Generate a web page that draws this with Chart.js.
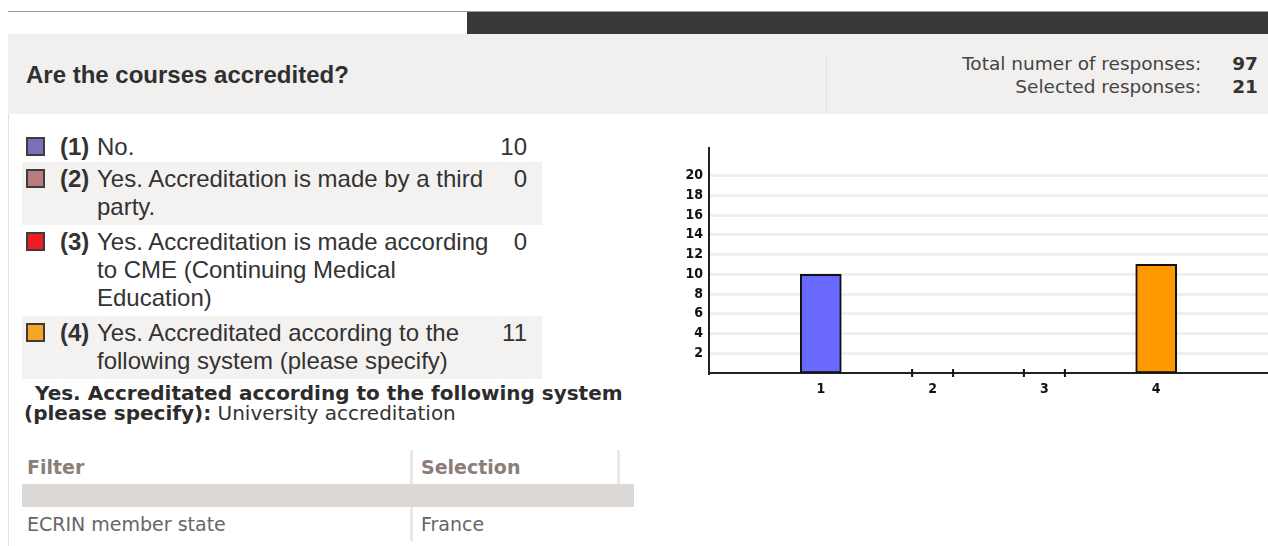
<!DOCTYPE html>
<html>
<head>
<meta charset="utf-8">
<script src="https://cdn.jsdelivr.net/npm/chart.js@4/dist/chart.umd.min.js"></script>
<style>
  html, body { margin: 0; padding: 0; background: #fff; }
  body { width: 1268px; height: 546px; position: relative; overflow: hidden; font-family: "Liberation Sans", Arial, sans-serif; }
  .topline { position: absolute; left: 8px; top: 11px; width: 1260px; height: 1px; background: #9a9a9a; }
  .darkbar { position: absolute; left: 467px; top: 12px; width: 801px; height: 22px; background: #38383b; }
  .head { position: absolute; left: 8px; top: 34px; width: 1260px; height: 80px; background: #f1f0ef; }
  .head h1 { position: absolute; left: 18px; top: 27px; margin: 0; font-size: 24px; line-height: 28px; font-weight: bold; color: #2f2f31; }
  .head .sep { position: absolute; left: 818px; top: 20px; width: 1px; height: 60px; background: #e4e3e2; }
  .totals { position: absolute; right: 10px; top: 18px; border-collapse: collapse; font-family: "DejaVu Sans", Verdana, sans-serif; font-size: 18.5px; color: #444; line-height: 23px; }
  .totals td { padding: 0; text-align: right; }
  .totals td.n { font-weight: bold; color: #333; padding-left: 31px; }
  .leftrule { position: absolute; left: 8px; top: 114px; width: 1px; height: 432px; background: #e2e2e2; }
  #legend { position: absolute; left: 22px; top: 132px; border-collapse: collapse; font-size: 24px; color: #333; line-height: 28px; }
  #legend td { padding: 3px 0 4px 0; vertical-align: top; }
  #legend tr:first-child td { padding: 1px 0 1px 0; }
  #legend tr:nth-child(even) td { background: #f3f2f1; }
  #legend tr:nth-child(even) td + td { box-shadow: inset 1px 0 0 #f7f6f5; }
  #legend .box { width: 35px; }
  #legend .box span { display: block; width: 15px; height: 15px; margin: 4px 0 0 4px; border: 2px solid #3f3a3c; }
  #legend .num { width: 37px; padding-left: 3px !important; font-weight: bold; }
  #legend .txt { width: 401px; }
  #legend .val { width: 29px; text-align: right; padding-right: 5px !important; }
  #legend .end { width: 10px; }
  .other { position: absolute; left: 24px; top: 383px; font-family: "DejaVu Sans", Verdana, sans-serif; font-size: 20px; color: #333; line-height: 20px; width: 600px; }
  .other b { color: #2c2c2c; margin-left: 11px; }
  .other b.cont { margin-left: 0; }
  #filters { position: absolute; left: 22px; top: 450px; border-collapse: collapse; font-family: "DejaVu Sans", Verdana, sans-serif; font-size: 19px; color: #666; }
  #filters th { text-align: left; color: #8b7d78; height: 34px; padding: 0 0 0 5px; border-right: 3px solid #e8e8e8; }
  #filters tr.gap td { background: #dcd8d5; height: 23px; padding: 0; }
  #filters td { height: 34px; padding: 0 0 0 5px; }
  #filters td.c1 { border-right: 3px solid #e8e8e8; }
  #filters .c2 { padding-left: 8px; }
  #chartBox { position: absolute; left: 650px; top: 130px; width: 618px; height: 280px; }
</style>
</head>
<body>
<div class="topline"></div>
<div class="darkbar"></div>
<div class="head">
  <h1>Are the courses accredited?</h1>
  <div class="sep"></div>
  <table class="totals">
    <tr><td>Total numer of responses:</td><td class="n" id="totalN"></td></tr>
    <tr><td>Selected responses:</td><td class="n" id="selectedN"></td></tr>
  </table>
</div>
<div class="leftrule"></div>

<table id="legend"></table>

<div class="other"><b>Yes. Accreditated according to the following system</b> <b class="cont">(please specify):</b> University accreditation</div>

<table id="filters">
  <tr><th style="width:383px">Filter</th><th class="c2" style="width:196px">Selection</th><th style="width:14px;border-right:none;padding:0"></th></tr>
  <tr class="gap"><td colspan="3"></td></tr>
  <tr><td class="c1">ECRIN member state</td><td class="c2">France</td><td></td></tr>
</table>

<div id="chartBox"><canvas id="accreditation"></canvas></div>

<script>
// answer options and counts
var categories = ['1', '2', '3', '4'];
var answers = [
  'No.',
  'Yes. Accreditation is made by a third party.',
  'Yes. Accreditation is made according to CME (Continuing Medical Education)',
  'Yes. Accreditated according to the following system (please specify)'
];
var responses = [10, 0, 0, 11];
var yTickValues = [2, 4, 6, 8, 10, 12, 14, 16, 18, 20];
var totalResponses = 97;

var barColors = ['#6969ff', '#c98080', '#ff1a1a', '#ff9900'];
var boxColors = ['#7a70b8', '#b97b7b', '#ed1c25', '#f6a623'];

document.getElementById('totalN').textContent = totalResponses;
document.getElementById('selectedN').textContent = responses.reduce(function (a, b) { return a + b; }, 0);

// legend rows next to the chart
var legend = document.getElementById('legend');
answers.forEach(function (text, i) {
  var tr = document.createElement('tr');
  tr.innerHTML = '<td class="box"><span style="background:' + boxColors[i] + '"></span></td>' +
    '<td class="num">(' + categories[i] + ')</td>' +
    '<td class="txt">' + text + '</td>' +
    '<td class="val">' + responses[i] + '</td>' +
    '<td class="end"></td>';
  legend.appendChild(tr);
});

// little marks on the axis where a bar has no height
var zeroBarMarks = {
  id: 'zeroBarMarks',
  afterDatasetsDraw: function (chart) {
    var meta = chart.getDatasetMeta(0);
    var c = chart.ctx;
    c.save();
    c.strokeStyle = '#111';
    c.lineWidth = 2;
    meta.data.forEach(function (bar, i) {
      if (responses[i] !== 0) return;
      var half = bar.width / 2;
      [bar.x - half, bar.x + half].forEach(function (x) {
        c.beginPath();
        c.moveTo(x, bar.base - 4);
        c.lineTo(x, bar.base + 4);
        c.stroke();
      });
    });
    c.restore();
  }
};

var tickFont = { family: '"Liberation Sans Narrow", "DejaVu Sans Condensed", sans-serif', size: 14, weight: 'bold' };

var ctx = document.getElementById('accreditation');
new Chart(ctx, {
  type: 'bar',
  data: {
    datasets: [{
      data: categories.map(function (c, i) { return { x: Number(c), y: responses[i] }; }),
      backgroundColor: barColors,
      borderColor: '#111',
      borderWidth: 2,
      borderSkipped: false,
      barThickness: 41
    }]
  },
  options: {
    responsive: true,
    maintainAspectRatio: false,
    animation: false,
    layout: { padding: { top: 18, right: 0, left: 0, bottom: 0 } },
    plugins: { legend: { display: false }, tooltip: { enabled: false } },
    scales: {
      x: {
        type: 'linear',
        offset: false,
        min: 0,
        max: 5,
        afterBuildTicks: function (scale) {
          scale.ticks = categories.map(function (c) { return { value: Number(c) }; });
        },
        afterFit: function (scale) { scale.height = 37; },
        ticks: {
          padding: 8,
          color: '#111',
          font: tickFont,
          callback: function (v) { return String(v); }
        },
        grid: { display: false, drawTicks: false },
        border: { color: '#222', width: 2 }
      },
      y: {
        min: 0,
        max: 22.8,
        afterBuildTicks: function (scale) {
          scale.ticks = yTickValues.map(function (v) { return { value: v }; });
        },
        afterFit: function (scale) { scale.width = 59; },
        ticks: {
          padding: 6,
          color: '#111',
          font: tickFont
        },
        grid: { color: '#efefef', lineWidth: 3, drawTicks: false },
        border: { color: '#222', width: 2 }
      }
    }
  },
  plugins: [zeroBarMarks]
});
</script>
</body>
</html>
